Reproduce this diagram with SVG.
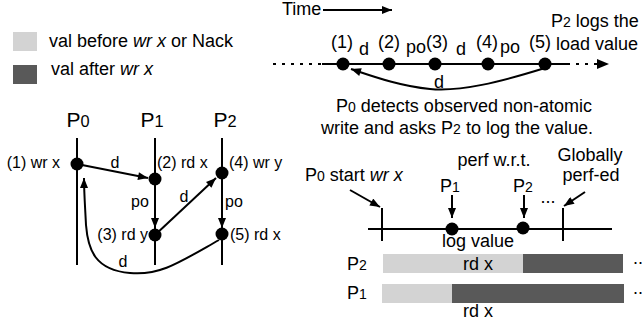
<svg xmlns="http://www.w3.org/2000/svg" width="642" height="322" viewBox="0 0 642 322">
<defs>
<marker id="ah" viewBox="0 0 10 8" refX="10" refY="4" markerWidth="11" markerHeight="8" markerUnits="userSpaceOnUse" orient="auto"><path d="M0,0 L10,4 L0,8 z" fill="#000"/></marker>
<style>
text{font-family:"Liberation Sans",Arial,sans-serif;fill:#000}
.t{font-size:18px}
.s{font-size:16px}
.big{font-size:21px}
.ln{stroke:#000;stroke-width:2;fill:none}
.ar{stroke:#000;stroke-width:2;fill:none;marker-end:url(#ah)}
.dot{fill:#000}
.lt{fill:#d3d3d3}
.dk{fill:#595959}
.sub{font-size:78%}
</style>
</defs>
<rect width="642" height="322" fill="#fff"/>

<g id="legend">
<rect class="lt" x="13" y="32" width="24" height="19"/>
<rect class="dk" x="13" y="65" width="24" height="19"/>
<text class="t" x="49" y="47">val before <tspan font-style="italic">wr x</tspan> or Nack</text>
<text class="t" x="51" y="75">val after <tspan font-style="italic">wr x</tspan></text>
</g>

<g id="time-axis">
<text class="t" x="282" y="15" font-size="17">Time</text>
<line class="ar" x1="323" y1="10" x2="392" y2="10"/>
</g>

<g id="timeline">
<line class="ln" x1="273" y1="64" x2="322" y2="64" stroke-dasharray="3,6"/>
<line class="ln" x1="322" y1="64" x2="567" y2="64"/>
<line class="ln" x1="567" y1="64" x2="599" y2="64" stroke-dasharray="3,6"/>
<path d="M597,59 L609,64 L597,69 z" fill="#000"/>
<circle class="dot" cx="343" cy="64" r="6.5"/>
<circle class="dot" cx="389" cy="64" r="6.5"/>
<circle class="dot" cx="435" cy="64" r="6.5"/>
<circle class="dot" cx="488" cy="64" r="6.5"/>
<circle class="dot" cx="545" cy="64" r="6.5"/>
<text class="t" x="342" y="48" text-anchor="middle">(1)</text>
<text class="t" x="389" y="48" text-anchor="middle">(2)</text>
<text class="t" x="437" y="48" text-anchor="middle">(3)</text>
<text class="t" x="487" y="48" text-anchor="middle">(4)</text>
<text class="t" x="540" y="48" text-anchor="middle">(5)</text>
<text class="t" x="364" y="55" text-anchor="middle">d</text>
<text class="t" x="416" y="53" text-anchor="middle">po</text>
<text class="t" x="461" y="55" text-anchor="middle">d</text>
<text class="t" x="510" y="53" text-anchor="middle">po</text>
<path class="ar" d="M545,68 C500,82 460,92 430,89 C400,86 375,77 351,69"/>
<text class="t" x="439" y="88" text-anchor="middle">d</text>
<text class="t" x="551" y="27">P<tspan class="sub">2</tspan> logs the</text>
<text class="t" x="556" y="50">load value</text>
<text class="t" x="336" y="112">P<tspan class="sub">0</tspan> detects observed non-atomic</text>
<text class="t" x="321" y="134">write and asks P<tspan class="sub">2</tspan> to log the value.</text>
</g>

<g id="P0">
<text class="big" x="78" y="127" text-anchor="middle">P<tspan class="sub">0</tspan></text>
<line class="ln" x1="77" y1="138" x2="77" y2="265"/>
<circle class="dot" cx="77" cy="164" r="6.5"/>
<text class="s" x="60" y="168" text-anchor="end">(1) wr x</text>
</g>
<g id="P1">
<text class="big" x="152" y="127" text-anchor="middle">P<tspan class="sub">1</tspan></text>
<line class="ln" x1="155" y1="138" x2="155" y2="265"/>
<circle class="dot" cx="155" cy="179" r="6.5"/>
<circle class="dot" cx="155" cy="235" r="6.5"/>
<text class="s" x="157" y="168">(2) rd x</text>
<text class="s" x="148" y="240" text-anchor="end">(3) rd y</text>
</g>
<g id="P2">
<text class="big" x="225" y="127" text-anchor="middle">P<tspan class="sub">2</tspan></text>
<line class="ln" x1="222" y1="138" x2="222" y2="265"/>
<circle class="dot" cx="222" cy="173" r="6.5"/>
<circle class="dot" cx="222" cy="234" r="6.5"/>
<text class="s" x="229" y="168">(4) wr y</text>
<text class="s" x="230" y="240">(5) rd x</text>
</g>

<g id="connectors">
<line class="ar" x1="77" y1="164" x2="148" y2="178"/>
<text class="s" x="115" y="168" text-anchor="middle">d</text>
<line class="ar" x1="155" y1="186" x2="155" y2="228"/>
<text class="s" x="140" y="207" text-anchor="middle">po</text>
<line class="ar" x1="155" y1="235" x2="216" y2="178"/>
<text class="s" x="184" y="202" text-anchor="middle">d</text>
<line class="ar" x1="222" y1="180" x2="222" y2="228"/>
<text class="s" x="234" y="207" text-anchor="middle">po</text>
<path class="ar" d="M219,240 C180,262 160,276 130,273 C95,270 88,250 86,225 C85,205 84,192 84,178"/>
<text class="s" x="123" y="267" text-anchor="middle">d</text>
</g>

<g id="perf-timeline">
<text class="t" x="305" y="181">P<tspan class="sub">0</tspan> start <tspan font-style="italic">wr x</tspan></text>
<line class="ar" x1="350" y1="190" x2="380" y2="207"/>
<text class="t" x="494" y="166" text-anchor="middle">perf w.r.t.</text>
<text class="t" x="450" y="192" text-anchor="middle">P<tspan class="sub">1</tspan></text>
<text class="t" x="523" y="192" text-anchor="middle">P<tspan class="sub">2</tspan></text>
<text class="t" x="548" y="203" text-anchor="middle">...</text>
<text class="t" x="590" y="161" text-anchor="middle">Globally</text>
<text class="t" x="591" y="181" text-anchor="middle">perf-ed</text>
<line class="ar" x1="585" y1="192" x2="564" y2="206"/>
<line class="ar" x1="452" y1="195" x2="452" y2="218"/>
<line class="ar" x1="524" y1="195" x2="524" y2="218"/>
<line class="ln" x1="368" y1="229" x2="612" y2="229"/>
<line class="ln" x1="382" y1="208" x2="382" y2="241"/>
<line class="ln" x1="563" y1="208" x2="563" y2="241"/>
<circle class="dot" cx="452" cy="229" r="6.5"/>
<circle class="dot" cx="523" cy="228" r="6.5"/>
<text class="t" x="478" y="247" text-anchor="middle">log value</text>
</g>

<g id="bars">
<text class="t" x="347" y="270">P<tspan class="sub">2</tspan></text>
<rect class="lt" x="383" y="254" width="140" height="19"/>
<rect class="dk" x="523" y="254" width="100" height="19"/>
<text class="t" x="478" y="270" text-anchor="middle">rd x</text>
<text class="t" x="633" y="264">..</text>
<text class="t" x="347" y="299">P<tspan class="sub">1</tspan></text>
<rect class="lt" x="382" y="284" width="71" height="19"/>
<rect class="dk" x="452" y="284" width="172" height="19"/>
<text class="t" x="478" y="317" text-anchor="middle">rd x</text>
<text class="t" x="633" y="294">..</text>
</g>
</svg>
